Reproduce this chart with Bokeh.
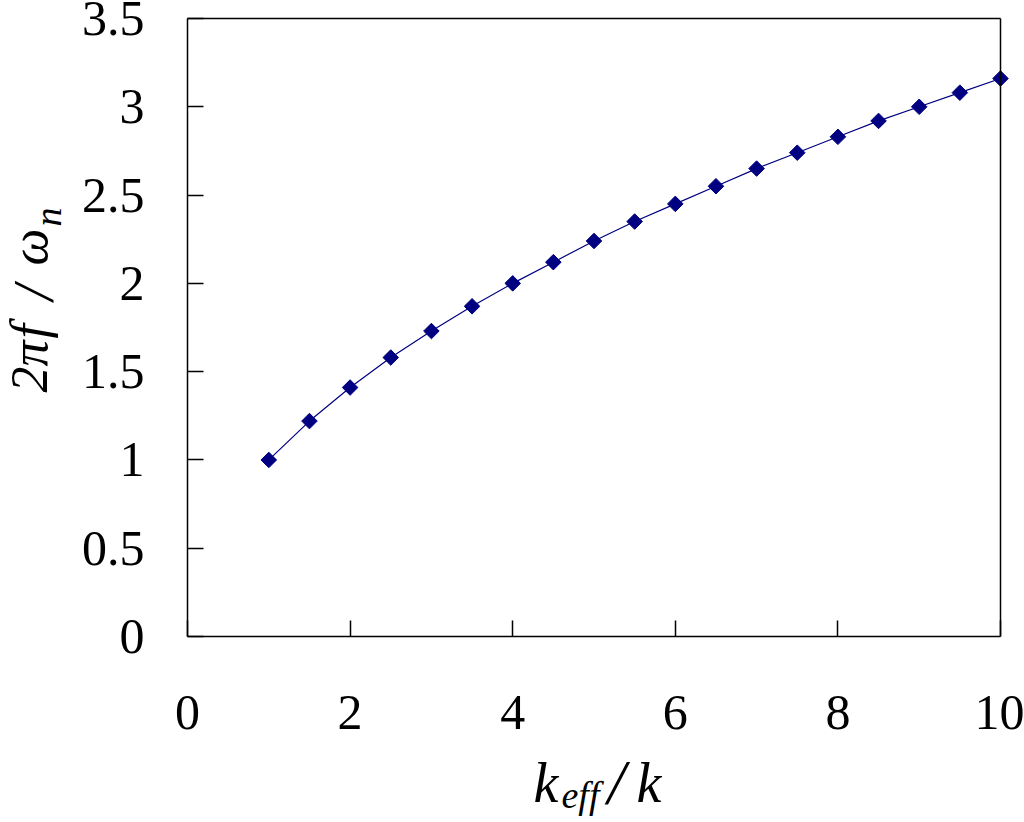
import math
from bokeh.plotting import figure
from bokeh.models import Label, Range1d, FixedTicker, LinearAxis
from bokeh.embed import file_html
from bokeh.resources import INLINE

# data
k_ratio = [1.0, 1.5, 2.0, 2.5, 3.0, 3.5, 4.0, 4.5, 5.0, 5.5, 6.0, 6.5, 7.0, 7.5, 8.0, 8.5, 9.0, 9.5, 10.0]
freq_ratio = [1.00, 1.22, 1.41, 1.58, 1.73, 1.87, 2.00, 2.12, 2.24, 2.35, 2.45, 2.55, 2.65, 2.74,
              2.83, 2.92, 3.00, 3.08, 3.16]
x_ticks = [0, 2, 4, 6, 8, 10]
y_ticks = [0, 0.5, 1, 1.5, 2, 2.5, 3, 3.5]
X_MIN, X_MAX = 0, 10
Y_MIN, Y_MAX = 0, 3.5

SERIF = "Liberation Serif"
NAVY = "#000080"

W, H = 1024, 822
# frame box in pixels
FL, FR, FT, FB = 187, 1000, 18, 636
sx = (FR - FL) / (X_MAX - X_MIN)
sy = (FB - FT) / (Y_MAX - Y_MIN)

p = figure(width=W, height=H, output_backend="svg", toolbar_location=None,
           x_range=Range1d(X_MIN - FL / sx, X_MAX + (W - FR) / sx),
           y_range=Range1d(Y_MIN - (H - FB) / sy, Y_MAX + FT / sy),
           x_axis_type=None, y_axis_type=None,
           min_border=0)
p.background_fill_color = "white"
p.border_fill_color = "white"
p.outline_line_color = None
p.xgrid.visible = False
p.ygrid.visible = False


def style(ax, ticks, show):
    ax.ticker = FixedTicker(ticks=ticks if show else [])
    ax.minor_tick_line_color = None
    ax.major_tick_in = 16
    ax.major_tick_out = 0
    ax.major_tick_line_color = "black"
    ax.major_tick_line_width = 1.5
    ax.axis_line_color = "black"
    ax.axis_line_width = 1.5
    ax.major_label_text_font = SERIF
    ax.major_label_text_font_size = "50px"
    ax.major_label_text_color = "black"
    if not show:
        ax.major_label_text_color = None
        ax.major_tick_line_color = None


xb = LinearAxis(fixed_location=Y_MIN, bounds=(X_MIN, X_MAX))
style(xb, x_ticks, True)
xb.major_label_standoff = 59
p.add_layout(xb, "below")

yl = LinearAxis(fixed_location=X_MIN, bounds=(Y_MIN, Y_MAX))
style(yl, y_ticks, True)
yl.major_label_standoff = 43
p.add_layout(yl, "left")

xt = LinearAxis(fixed_location=Y_MAX, bounds=(X_MIN, X_MAX))
style(xt, x_ticks, False)
p.add_layout(xt, "above")

yr = LinearAxis(fixed_location=X_MAX, bounds=(Y_MIN, Y_MAX))
style(yr, y_ticks, False)
p.add_layout(yr, "right")

p.line(k_ratio, freq_ratio, line_color=NAVY, line_width=1.2)
p.scatter(k_ratio, freq_ratio, marker="square", angle=math.pi / 4, size=11,
          fill_color=NAVY, line_color=NAVY)


# axis titles composed of pieces (subscripts); positions given in pixels
def lab(px, py, text, size, angle=0.0):
    p.add_layout(Label(x=X_MIN + (px - FL) / sx, y=Y_MIN + (FB - py) / sy, text=text,
                       text_font=SERIF, text_font_style="italic",
                       text_font_size=size, text_color="black", angle=angle,
                       text_baseline="alphabetic", text_align="left"))


# x label: k_eff / k
lab(533, 782, "k", "56px")
lab(561, 794, "eff", "38px")
lab(607, 782, "/", "64px")
lab(636, 782, "k", "56px")

# y label: 2π f / ω_n (rotated)
r = math.pi / 2
lab(29, 392, "2π", "52px", r)
lab(29, 338, "f", "52px", r)
lab(33, 300, "/", "56px", r)
lab(29, 265, "ω", "52px", r)
lab(47, 226, "n", "38px", r)

open("out.html", "w").write(file_html(p, INLINE))
